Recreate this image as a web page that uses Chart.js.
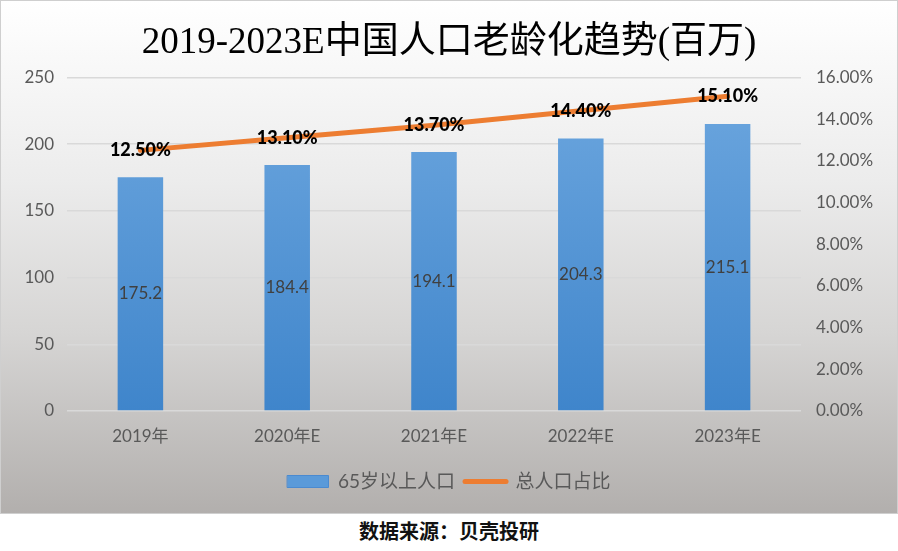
<!DOCTYPE html>
<html>
<head>
<meta charset="utf-8">
<script src="https://cdn.jsdelivr.net/npm/chart.js@4/dist/chart.umd.min.js"></script>
<style>
  html, body { margin: 0; padding: 0; background: #ffffff; }
  #wrap { position: absolute; left: 0; top: 0; width: 896px; height: 512px;
    border: 1px solid #cfcfcf;
    background: linear-gradient(to bottom, #ffffff 0%, #ececec 35%, #d6d5d4 65%, #b2afad 100%); }
  #wrap canvas { position: absolute; left: 0; top: 0; }
  #src { position: absolute; left: 0; top: 516px; width: 898px; text-align: center;
    font: bold 20px "Noto Sans CJK SC", sans-serif; color: #111; line-height: 30px; }
</style>
</head>
<body>
<div id="wrap"><canvas id="c" width="896" height="512"></canvas></div>
<div id="src">数据来源：贝壳投研</div>
<script>
const categories = ['2019年', '2020年E', '2021年E', '2022年E', '2023年E'];
const elderly = [175.2, 184.4, 194.1, 204.3, 215.1];
const ratio = [12.5, 13.1, 13.7, 14.4, 15.1];
const leftTicks = [0, 50, 100, 150, 200, 250];
const rightTicks = [0, 2, 4, 6, 8, 10, 12, 14, 16];

const FONT = 'Lato, "Noto Sans CJK SC", sans-serif';

const labelPlugin = {
  id: 'valueLabels',
  afterDatasetsDraw(chart) {
    const ctx = chart.ctx;
    ctx.save();
    const barMeta = chart.getDatasetMeta(0);
    ctx.font = '17px ' + FONT;
    ctx.fillStyle = '#404040';
    ctx.textAlign = 'center';
    ctx.textBaseline = 'middle';
    barMeta.data.forEach((el, i) => {
      ctx.fillText(elderly[i].toFixed(1), el.x, (el.y + el.base) / 2);
    });
    const lineMeta = chart.getDatasetMeta(1);
    ctx.font = '900 18px ' + FONT;
    ctx.fillStyle = '#000000';
    lineMeta.data.forEach((el, i) => {
      ctx.fillText(ratio[i].toFixed(2) + '%', el.x, el.y);
    });
    ctx.restore();
  }
};

const ctx = document.getElementById('c').getContext('2d');
new Chart(ctx, {
  data: {
    labels: categories,
    datasets: [
      {
        type: 'bar',
        label: '65岁以上人口',
        data: elderly,
        yAxisID: 'y',
        order: 2,
        barPercentage: 0.62,
        categoryPercentage: 0.5,
        backgroundColor: (c) => {
          const area = c.chart.chartArea;
          if (!area) return '#5b9bd5';
          const g = c.chart.ctx.createLinearGradient(0, area.top, 0, area.bottom);
          g.addColorStop(0, '#6da7df');
          g.addColorStop(1, '#3f85cb');
          return g;
        },
        borderColor: '#5a95d0',
        borderWidth: 0
      },
      {
        type: 'line',
        label: '总人口占比',
        data: ratio,
        yAxisID: 'y1',
        order: 1,
        borderColor: '#ed7d31',
        backgroundColor: '#ed7d31',
        borderWidth: 5,
        borderCapStyle: 'round',
        pointRadius: 0,
        tension: 0
      }
    ]
  },
  options: {
    responsive: false,
    animation: false,
    layout: { padding: { left: 0, right: 0, top: 0, bottom: 12 } },
    plugins: {
      title: {
        display: true,
        text: '2019-2023E中国人口老龄化趋势(百万)',
        color: '#000000',
        font: { family: '"Liberation Serif", "Noto Sans CJK SC", serif', size: 37, weight: 'normal' },
        padding: { top: 20, bottom: 12 }
      },
      legend: {
        display: true,
        position: 'bottom',
        labels: {
          color: '#595959',
          font: { family: FONT, size: 19 },
          usePointStyle: true,
          pointStyleWidth: 41,
          boxHeight: 12,
          padding: 10,
          generateLabels(chart) {
            return chart.data.datasets.map((ds, i) => ({
              text: ds.label,
              fillStyle: i === 0 ? '#5a9ad9' : '#ed7d31',
              strokeStyle: i === 0 ? '#4a8ad0' : '#ed7d31',
              lineWidth: i === 0 ? 1 : 5,
              lineCap: 'round',
              pointStyle: i === 0 ? 'rect' : 'line',
              fontColor: '#595959',
              hidden: false,
              datasetIndex: i
            }));
          }
        }
      },
      tooltip: { enabled: false }
    },
    scales: {
      x: {
        grid: { display: false, drawTicks: false },
        border: { display: false },
        ticks: { color: '#595959', font: { family: FONT, size: 17 }, padding: 15 },
        afterFit(s) { s.height = 51; }
      },
      y: {
        position: 'left',
        min: 0, max: 250,
        afterBuildTicks(s) { s.ticks = leftTicks.map(v => ({ value: v })); },
        grid: { color: '#d9d9d9', lineWidth: 1.5, drawTicks: false },
        border: { display: false },
        ticks: { color: '#595959', font: { family: FONT, size: 17 }, padding: 13 },
        afterFit(s) { s.width = 66; }
      },
      y1: {
        position: 'right',
        min: 0, max: 16,
        afterBuildTicks(s) { s.ticks = rightTicks.map(v => ({ value: v })); },
        grid: { display: false, drawTicks: false },
        border: { display: false },
        ticks: { color: '#595959', font: { family: FONT, size: 17 }, padding: 15,
          callback: (v) => Number(v).toFixed(2) + '%' },
        afterFit(s) { s.width = 96; }
      }
    }
  },
  plugins: [labelPlugin]
});
</script>
</body>
</html>
